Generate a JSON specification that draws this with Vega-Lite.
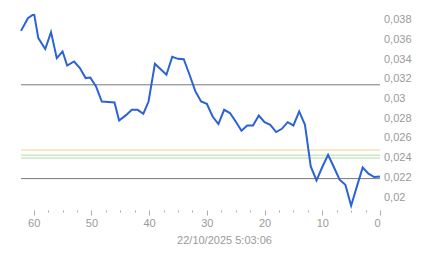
{
  "$schema": "https://vega.github.io/schema/vega-lite/v6.json",
  "width": 359,
  "height": 200,
  "padding": {"left": 17, "top": 10, "right": 0, "bottom": 0},
  "background": "white",
  "config": {
    "view": {"stroke": null},
    "font": "Liberation Sans",
    "axis": {"labelFont": "Liberation Sans", "titleFont": "Liberation Sans"}
  },
  "datasets": {
    "series": [
      {"t": 62.2, "v": 0.03688}, {"t": 61, "v": 0.03817}, {"t": 60.2, "v": 0.0385}, {"t": 59.9, "v": 0.0385},
      {"t": 59.2, "v": 0.03614}, {"t": 58, "v": 0.03503}, {"t": 57, "v": 0.03675}, {"t": 56, "v": 0.03411},
      {"t": 55, "v": 0.03478}, {"t": 54.2, "v": 0.03336}, {"t": 53, "v": 0.03377}, {"t": 52, "v": 0.0331},
      {"t": 51, "v": 0.03208}, {"t": 50.2, "v": 0.03214}, {"t": 49.2, "v": 0.03123}, {"t": 48.2, "v": 0.0297},
      {"t": 47, "v": 0.02965}, {"t": 46, "v": 0.0296}, {"t": 45.2, "v": 0.02778}, {"t": 44, "v": 0.02832},
      {"t": 43, "v": 0.02886}, {"t": 42, "v": 0.02886}, {"t": 41, "v": 0.02846}, {"t": 40.1, "v": 0.0297},
      {"t": 39, "v": 0.03353}, {"t": 38, "v": 0.03298}, {"t": 37, "v": 0.03242}, {"t": 36, "v": 0.03425},
      {"t": 35, "v": 0.03404}, {"t": 34, "v": 0.034}, {"t": 33, "v": 0.03242}, {"t": 32, "v": 0.03075},
      {"t": 31, "v": 0.0297}, {"t": 30, "v": 0.02947}, {"t": 29, "v": 0.02818}, {"t": 28, "v": 0.02741},
      {"t": 27, "v": 0.02886}, {"t": 26, "v": 0.02853}, {"t": 25, "v": 0.02767}, {"t": 24, "v": 0.02673},
      {"t": 23, "v": 0.02727}, {"t": 22, "v": 0.02727}, {"t": 21, "v": 0.02828}, {"t": 20, "v": 0.0276},
      {"t": 19, "v": 0.02734}, {"t": 18, "v": 0.0266}, {"t": 17, "v": 0.02693}, {"t": 16, "v": 0.0276},
      {"t": 15, "v": 0.02727}, {"t": 14, "v": 0.02869}, {"t": 13, "v": 0.02734}, {"t": 12, "v": 0.0231},
      {"t": 11, "v": 0.02169}, {"t": 10, "v": 0.02305}, {"t": 9, "v": 0.02429}, {"t": 8, "v": 0.02305},
      {"t": 7, "v": 0.02176}, {"t": 6, "v": 0.02125}, {"t": 5, "v": 0.01912}, {"t": 4, "v": 0.02108},
      {"t": 3, "v": 0.023}, {"t": 2, "v": 0.02237}, {"t": 1, "v": 0.02203}, {"t": 0, "v": 0.02209}
    ],
    "levels": [
      {"name": "upper", "v": 0.0314},
      {"name": "lower", "v": 0.02187},
      {"name": "yellow", "v": 0.02477},
      {"name": "green1", "v": 0.02425},
      {"name": "green2", "v": 0.02396}
    ]
  },
  "resolve": {"axis": {"x": "independent", "y": "independent"}},
  "layer": [
    {
      "data": {"name": "levels"},
      "mark": {"type": "rule", "strokeWidth": 1},
      "encoding": {
        "y": {"field": "v", "type": "quantitative", "scale": {"domain": [0.01868, 0.039], "nice": false, "zero": false}, "axis": null},
        "color": {
          "field": "name", "type": "nominal", "legend": null,
          "scale": {"domain": ["upper", "lower", "yellow", "green1", "green2"], "range": ["#7a7a7a", "#7a7a7a", "#ecd48a", "#b4dca4", "#b4dca4"]}
        },
        "x": {
          "datum": 62.2, "type": "quantitative",
          "scale": {"domain": [62.2, 0], "nice": false, "zero": false},
          "axis": {
            "orient": "bottom",
            "values": [62.5, 57.5, 55, 52.5, 47.5, 45, 42.5, 37.5, 35, 32.5, 27.5, 25, 22.5, 17.5, 15, 12.5, 7.5, 5, 2.5],
            "labels": false, "domain": false, "grid": false, "title": null,
            "tickSize": 2, "tickColor": "#aaaaaa", "tickWidth": 1
          }
        },
        "x2": {"datum": 0}
      }
    },
    {
      "data": {"name": "series"},
      "mark": {"type": "line", "color": "#2b62d6", "strokeWidth": 2},
      "encoding": {
        "x": {
          "field": "t", "type": "quantitative",
          "scale": {"domain": [62.2, 0], "nice": false, "zero": false},
          "axis": {
            "orient": "bottom",
            "values": [60, 50, 40, 30, 20, 10, 0],
            "domain": false, "grid": false,
            "tickSize": 5, "tickColor": "#aaaaaa", "tickWidth": 1,
            "labelFontSize": 11, "labelColor": "#9a9a9a", "labelPadding": 2,
            "title": "22/10/2025 5:03:06", "titleFontSize": 11, "titleFontWeight": "normal",
            "titleColor": "#9a9a9a", "titleX": 203, "titleY": 30, "titleBaseline": "middle", "titleAnchor": null
          }
        },
        "y": {
          "field": "v", "type": "quantitative",
          "scale": {"domain": [0.01868, 0.039], "nice": false, "zero": false},
          "axis": {
            "orient": "right",
            "values": [0.02, 0.022, 0.024, 0.026, 0.028, 0.03, 0.032, 0.034, 0.036, 0.038],
            "labelExpr": "replace(format(datum.value, '.3~f'), '.', ',')",
            "domain": false, "grid": false, "ticks": false,
            "labelPadding": 3.5, "labelFontSize": 11, "labelColor": "#9a9a9a", "title": null
          }
        }
      }
    }
  ]
}
